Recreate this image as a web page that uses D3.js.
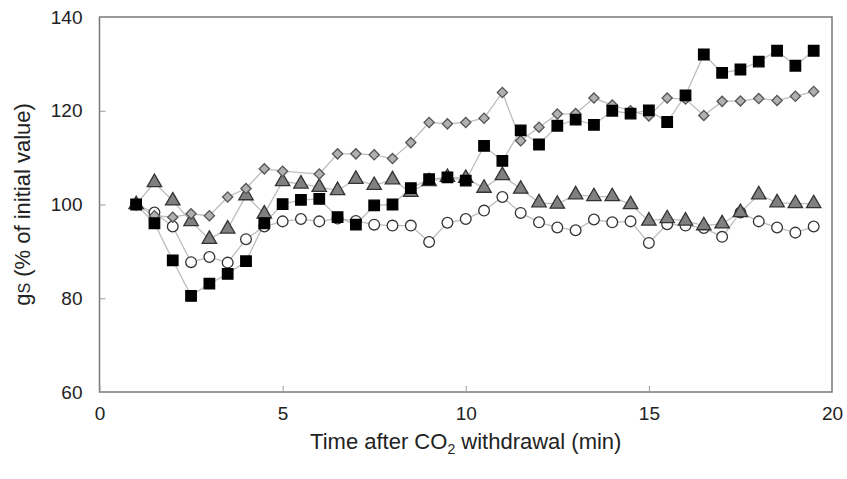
<!DOCTYPE html>
<html lang="en">
<head>
   <meta charset="utf-8">
   <title>gs after CO2 withdrawal</title>
   <script src="https://cdn.jsdelivr.net/npm/d3@7"></script>
   <style type="text/css">
      body { margin: 0; background: #fff; }
      text { font-family: "Liberation Sans", Arial, sans-serif; fill: #222; }
   </style>
</head>
<body>
   <script type="text/javascript">

      // time points (min)
      var times = [1, 1.5, 2, 2.5, 3, 3.5, 4, 4.5, 5, 5.5, 6, 6.5, 7, 7.5, 8, 8.5, 9, 9.5, 10,
                   10.5, 11, 11.5, 12, 12.5, 13, 13.5, 14, 14.5, 15, 15.5, 16, 16.5, 17, 17.5,
                   18, 18.5, 19, 19.5];

      var squares = [100, 96, 88.1, 80.5, 83.1, 85.2, 87.9, 96, 100.1, 101, 101.2, 97.3, 95.7,
                     99.8, 100, 103.5, 105.4, 105.8, 105.1, 112.5, 109.3, 115.8, 112.8, 116.8,
                     118.1, 117, 120, 119.4, 120.1, 117.6, 123.3, 132, 128.1, 128.8, 130.5,
                     132.8, 129.6, 132.8];

      // no diamond at 5.5 min
      var diamonds = [100, 97.6, 97.3, 98, 97.6, 101.6, 103.4, 107.6, 107.1, null, 106.5, 110.8,
                      110.8, 110.6, 109.8, 113.2, 117.5, 117.2, 117.5, 118.4, 123.9, 113.6, 116.5,
                      119.3, 119.4, 122.7, 121.2, 120, 118.9, 122.7, 122.5, 119, 122, 122.1,
                      122.6, 122.2, 123.1, 124.1];

      var triangles = [100, 104.7, 100.8, 96.4, 92.6, 94.8, 101.9, 98, 104.9, 104.4, 103.7, 103,
                       105.4, 104.1, 105.3, 102.6, 104.9, 105.8, 105.6, 103.5, 106.2, 103.3,
                       100.4, 100.1, 102.1, 101.7, 101.7, 100, 96.5, 97, 96.5, 95.5, 95.9, 98.3,
                       102.1, 100.4, 100.2, 100.2];

      var circles = [100, 98.3, 95.3, 87.7, 88.8, 87.6, 92.6, 95.3, 96.4, 96.9, 96.4, 97, 96.5,
                     95.7, 95.5, 95.5, 92, 96.1, 96.9, 98.7, 101.6, 98.2, 96.2, 95.1, 94.5, 96.8,
                     96.2, 96.4, 91.8, 95.8, 95.5, 95, 93.1, 98.3, 96.4, 95.1, 94, 95.3];

      var xTicks = [0, 5, 10, 15, 20];
      var yTicks = [60, 80, 100, 120, 140];

      var w = 847;
      var h = 479;
      var margin = { top: 17, right: 15, bottom: 87, left: 99.5 };

      var xScale = d3.scaleLinear()
                     .domain([0, 20])
                     .range([margin.left, w - margin.right]);

      var yScale = d3.scaleLinear()
                     .domain([60, 140])
                     .range([h - margin.bottom, margin.top]);

      var svg = d3.select("body")
                  .append("svg")
                  .attr("width", w)
                  .attr("height", h);

      // frame
      svg.append("rect")
         .attr("x", xScale(0))
         .attr("y", yScale(140))
         .attr("width", xScale(20) - xScale(0))
         .attr("height", yScale(60) - yScale(140))
         .attr("fill", "none")
         .attr("stroke", "#777")
         .attr("stroke-width", 1.5);

      var xAxis = d3.axisBottom(xScale)
                    .tickValues(xTicks)
                    .tickSizeInner(-6)
                    .tickSizeOuter(0)
                    .tickPadding(15);

      var yAxis = d3.axisLeft(yScale)
                    .tickValues(yTicks)
                    .tickSizeInner(-6)
                    .tickSizeOuter(0)
                    .tickPadding(17);

      var gx = svg.append("g")
         .attr("transform", "translate(0," + yScale(60) + ")")
         .call(xAxis);

      var gy = svg.append("g")
         .attr("transform", "translate(" + xScale(0) + ",0)")
         .call(yAxis);

      [gx, gy].forEach(function(g) {
         g.select(".domain").remove();
         g.selectAll(".tick line").attr("stroke", "#999").attr("stroke-width", 1);
         g.selectAll(".tick text")
          .style("font-family", "Liberation Sans, Arial, sans-serif")
          .style("font-size", "19px")
          .attr("fill", "#222");
      });

      // series
      var line = d3.line()
                   .x(function(d) { return xScale(d.t); })
                   .y(function(d) { return yScale(d.v); });

      function pts(vals) {
         return times.map(function(t, i) { return { t: t, v: vals[i] }; })
                     .filter(function(d) { return d.v != null; });
      }

      var series = [
         { name: "diamonds", vals: diamonds },
         { name: "triangles", vals: triangles },
         { name: "circles", vals: circles },
         { name: "squares", vals: squares }
      ];

      series.forEach(function(s) {
         svg.append("path")
            .datum(pts(s.vals))
            .attr("fill", "none")
            .attr("stroke", "#bdbdbd")
            .attr("stroke-width", 1.3)
            .attr("d", line);
      });

      var sym = {
         squares: d3.symbol().type(d3.symbolSquare).size(110),
         diamonds: d3.symbol().type(d3.symbolSquare).size(52),
         triangles: d3.symbol().type(d3.symbolTriangle).size(90),
         circles: d3.symbol().type(d3.symbolCircle).size(90)
      };
      var rot = { squares: 0, diamonds: 45, triangles: 0, circles: 0 };
      var fills = { squares: "#000", diamonds: "#b0b0b0", triangles: "#808080", circles: "#fff" };
      var strokes = { squares: "#000", diamonds: "#555", triangles: "#333", circles: "#333" };

      ["circles", "triangles", "diamonds", "squares"].forEach(function(name) {
         var s = series.filter(function(d) { return d.name === name; })[0];
         svg.append("g")
            .selectAll("path")
            .data(pts(s.vals))
            .enter()
            .append("path")
            .attr("transform", function(d) {
               return "translate(" + xScale(d.t) + "," + yScale(d.v) + ") rotate(" + rot[name] + ")";
            })
            .attr("d", sym[name])
            .attr("fill", fills[name])
            .attr("stroke", strokes[name])
            .attr("stroke-width", 1.3);
      });

      // axis titles
      var xt = svg.append("text")
         .attr("x", (xScale(0) + xScale(20)) / 2)
         .attr("y", 449)
         .attr("text-anchor", "middle")
         .style("font-size", "22px");
      xt.append("tspan").text("Time after CO");
      xt.append("tspan").attr("dy", 5).style("font-size", "14px").text("2");
      xt.append("tspan").attr("dy", -5).text(" withdrawal (min)");

      var yt = svg.append("text")
         .attr("transform", "translate(30," + yScale(100) + ") rotate(-90)")
         .attr("text-anchor", "middle")
         .style("font-size", "22px");
      yt.append("tspan").text("g");
      yt.append("tspan").style("font-size", "16px").text("S");
      yt.append("tspan").text(" (% of initial value)");

   </script>
</body>
</html>
